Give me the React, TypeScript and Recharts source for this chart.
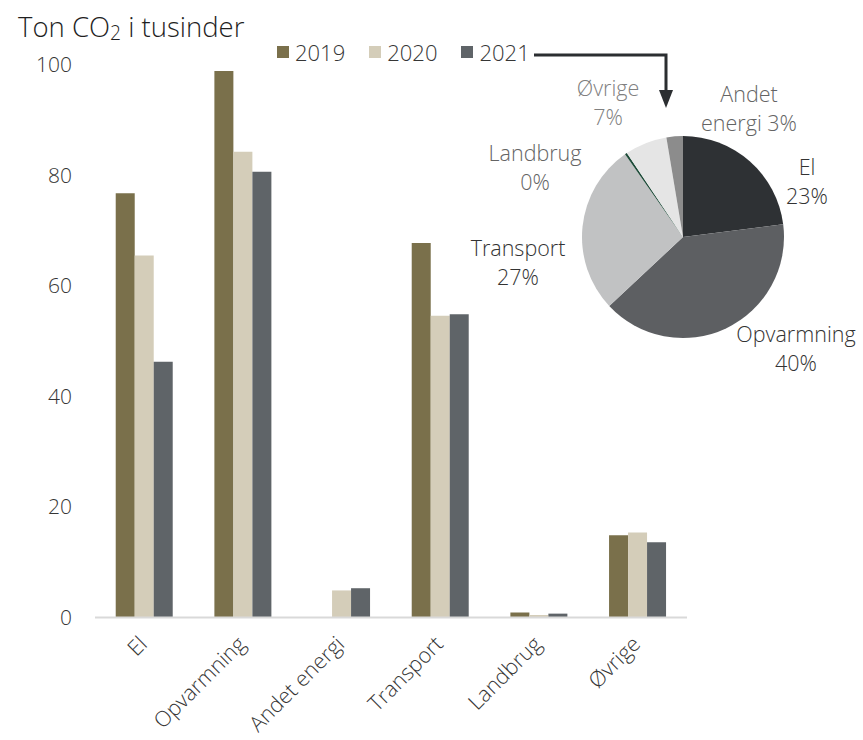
import { BarChart, Bar, XAxis, YAxis, Legend, PieChart, Pie, Cell } from 'recharts';

const categories = ['El', 'Opvarmning', 'Andet energi', 'Transport', 'Landbrug', 'Øvrige'];
const years = ['2019', '2020', '2021'];
const values2019 = [76.8, 98.9, 0, 67.8, 0.9, 14.9];
const values2020 = [65.5, 84.3, 4.9, 54.6, 0.45, 15.4];
const values2021 = [46.3, 80.7, 5.3, 54.9, 0.7, 13.6];
const yTicks = [0, 20, 40, 60, 80, 100];

// pie shows 2021, clockwise from 12 o'clock in this order
const pieOrder = ['El', 'Opvarmning', 'Transport', 'Landbrug', 'Øvrige', 'Andet energi'];

const barColors = ['#7a704b', '#d4cdb9', '#5f6468'];
const sliceColors: Record<string, string> = {
  El: '#2e3134',
  Opvarmning: '#5d5f62',
  Transport: '#c1c2c3',
  Landbrug: '#1d4b38',
  'Øvrige': '#e5e5e5',
  'Andet energi': '#8c8c8c',
};

// label placement relative to the pie centre (first line), plus text colour
const labelSpots: Record<string, { dx: number; dy: number; color: string; lines?: [string, string] }> = {
  El: { dx: 124, dy: -70, color: '#333333' },
  Opvarmning: { dx: 113, dy: 97, color: '#333333' },
  Transport: { dx: -165, dy: 11, color: '#333333' },
  Landbrug: { dx: -148, dy: -84, color: '#646464' },
  'Øvrige': { dx: -75, dy: -149, color: '#808080' },
  'Andet energi': { dx: 66, dy: -143, color: '#646464', lines: ['Andet', 'energi'] },
};

const barData = categories.map((name, i) => ({
  name,
  '2019': values2019[i],
  '2020': values2020[i],
  '2021': values2021[i],
}));

const pieData = pieOrder.map((name) => ({
  name,
  value: values2021[categories.indexOf(name)],
}));

const FONT = '"Open Sans", "Noto Sans", sans-serif';
const WEIGHT = 300;
const INK = '#363636';

function CategoryTick({ x, y, payload }: any) {
  const ax = x + 4;
  const ay = y + 20;
  return (
    <text
      x={ax}
      y={ay}
      textAnchor="end"
      transform={`rotate(-45 ${ax} ${ay})`}
      fontSize={21.5}
      fontWeight={WEIGHT}
      fontFamily={FONT}
      fill={INK}
    >
      {payload.value}
    </text>
  );
}

function YearLegend() {
  return (
    <div
      style={{
        display: 'flex',
        alignItems: 'center',
        fontFamily: FONT,
        fontWeight: WEIGHT,
        fontSize: 22,
        color: INK,
      }}
    >
      {years.map((year, i) => (
        <div key={year} style={{ display: 'flex', alignItems: 'center', marginRight: i < years.length - 1 ? 24 : 0 }}>
          <span style={{ width: 12, height: 12, background: barColors[i], marginRight: 6 }} />
          <span>{year}</span>
        </div>
      ))}
    </div>
  );
}

function renderPieLabel(props: any) {
  const { cx, cy, name, percent } = props;
  const spot = labelSpots[name];
  if (!spot) return null;
  const pct = `${Math.round(percent * 100)}%`;
  const first = spot.lines ? spot.lines[0] : name;
  const second = spot.lines ? `${spot.lines[1]} ${pct}` : pct;
  const x = cx + spot.dx;
  const y = cy + spot.dy;
  return (
    <text
      x={x}
      y={y}
      textAnchor="middle"
      fontSize={21.5}
      fontWeight={WEIGHT}
      fontFamily={FONT}
      fill={spot.color}
    >
      <tspan x={x} dy="0.35em">{first}</tspan>
      <tspan x={x} dy="29">{second}</tspan>
    </text>
  );
}

export default function App() {
  return (
    <div style={{ position: 'absolute', left: 0, top: 0, width: 863, height: 740, background: '#fff' }}>
      <div
        style={{
          position: 'absolute',
          left: 18,
          top: 8,
          fontFamily: FONT,
          fontWeight: WEIGHT,
          fontSize: 27.5,
          color: '#1f1f1f',
          whiteSpace: 'nowrap',
        }}
      >
        Ton CO<sub style={{ fontSize: '0.7em', verticalAlign: '-0.15em' }}>2</sub> i tusinder
      </div>

      <BarChart
        width={863}
        height={740}
        data={barData}
        margin={{ top: 65, right: 176, bottom: 22.5, left: 0 }}
        barCategoryGap="21%"
        barGap={0}
        style={{ position: 'absolute', left: 0, top: 0 }}
      >
        <XAxis
          dataKey="name"
          height={100}
          tickLine={false}
          axisLine={{ stroke: '#d9d9d9', strokeWidth: 2 }}
          tick={<CategoryTick />}
          interval={0}
        />
        <YAxis
          width={95}
          domain={[0, 100]}
          ticks={yTicks}
          axisLine={false}
          tickLine={false}
          tickMargin={17}
          tick={{ fontSize: 21, fontWeight: WEIGHT, fontFamily: FONT, fill: INK }}
        />
        <Legend
          layout="horizontal"
          verticalAlign="middle"
          align="center"
          content={<YearLegend />}
          wrapperStyle={{ top: 37, left: 277, width: 'auto', height: 'auto' }}
        />
        {years.map((year, i) => (
          <Bar key={year} dataKey={year} fill={barColors[i]} isAnimationActive={false} />
        ))}
      </BarChart>

      <svg width={863} height={740} style={{ position: 'absolute', left: 0, top: 0, pointerEvents: 'none' }}>
        <path d="M 534 55 H 666 V 92" fill="none" stroke="#2b2e31" strokeWidth={3} />
        <polygon points="659,90 673,90 666,108" fill="#2b2e31" />
      </svg>

      <PieChart width={863} height={740} style={{ position: 'absolute', left: 0, top: 0 }}>
        <Pie
          data={pieData}
          dataKey="value"
          nameKey="name"
          cx={678}
          cy={232}
          outerRadius={101}
          startAngle={90}
          endAngle={-270}
          stroke="none"
          labelLine={false}
          label={renderPieLabel}
          isAnimationActive={false}
        >
          {pieData.map((d) => (
            <Cell key={d.name} fill={sliceColors[d.name]} />
          ))}
        </Pie>
      </PieChart>
    </div>
  );
}
